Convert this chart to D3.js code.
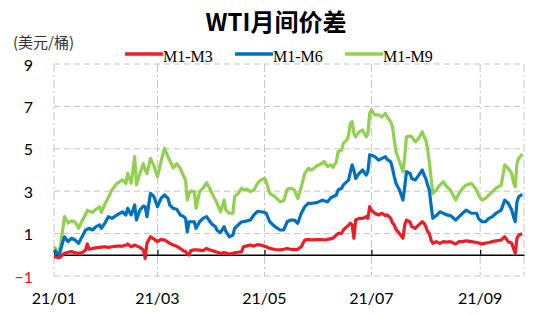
<!DOCTYPE html>
<html>
<head>
<meta charset="utf-8">
<script src="https://cdn.jsdelivr.net/npm/d3@7"></script>
<style>
    body { margin: 0; background: #fff; }
    #chart { width: 550px; height: 315px; }
</style>
</head>
<body>
<div id="chart"></div>
<script>
// trading dates (sampled) and the three spreads, USD/bbl
const dates = [
    "2021-01-04","2021-01-06","2021-01-07","2021-01-09","2021-01-10","2021-01-12","2021-01-14","2021-01-16","2021-01-18","2021-01-20",
    "2021-01-22","2021-01-23","2021-01-24","2021-01-26","2021-01-28","2021-01-30","2021-01-31","2021-02-02","2021-02-04","2021-02-06",
    "2021-02-09","2021-02-12","2021-02-14","2021-02-15","2021-02-17","2021-02-19","2021-02-20","2021-02-22","2021-02-24","2021-02-25",
    "2021-02-26","2021-02-28","2021-03-02","2021-03-04","2021-03-06","2021-03-08","2021-03-10","2021-03-11","2021-03-13","2021-03-15",
    "2021-03-17","2021-03-19","2021-03-20","2021-03-21","2021-03-22","2021-03-23","2021-03-25","2021-03-26","2021-03-28","2021-03-30",
    "2021-04-01","2021-04-03","2021-04-04","2021-04-06","2021-04-07","2021-04-09","2021-04-11","2021-04-12","2021-04-14","2021-04-16",
    "2021-04-17","2021-04-19","2021-04-21","2021-04-22","2021-04-24","2021-04-26","2021-04-28","2021-04-30","2021-05-02","2021-05-04",
    "2021-05-05","2021-05-07","2021-05-10","2021-05-13","2021-05-15","2021-05-17","2021-05-19","2021-05-21","2021-05-23","2021-05-25",
    "2021-05-27","2021-05-29","2021-05-31","2021-06-03","2021-06-06","2021-06-07","2021-06-09","2021-06-11","2021-06-12","2021-06-14",
    "2021-06-15","2021-06-17","2021-06-18","2021-06-20","2021-06-21","2021-06-22","2021-06-23","2021-06-24","2021-06-25","2021-06-27",
    "2021-06-29","2021-07-01","2021-07-02","2021-07-03","2021-07-04","2021-07-06","2021-07-08","2021-07-10","2021-07-12","2021-07-13",
    "2021-07-15","2021-07-16","2021-07-17","2021-07-18","2021-07-20","2021-07-22","2021-07-23","2021-07-24","2021-07-26","2021-07-27",
    "2021-07-29","2021-07-31","2021-08-02","2021-08-03","2021-08-04","2021-08-05","2021-08-06","2021-08-07","2021-08-08","2021-08-10",
    "2021-08-12","2021-08-14","2021-08-16","2021-08-18","2021-08-21","2021-08-23","2021-08-25","2021-08-27","2021-08-30","2021-09-02",
    "2021-09-03","2021-09-05","2021-09-07","2021-09-09","2021-09-11","2021-09-13","2021-09-16","2021-09-18","2021-09-20","2021-09-22",
    "2021-09-23","2021-09-24","2021-09-25","2021-09-26","2021-09-28"
];

const m1m3 = [
    -0.09,-0.12,-0.14,0.0,0.07,0.12,0.15,0.1,0.07,0.1,
    0.23,0.51,0.26,0.3,0.33,0.35,0.36,0.38,0.35,0.38,
    0.41,0.41,0.45,0.51,0.38,0.46,0.42,0.35,0.23,-0.17,
    0.54,0.85,0.74,0.62,0.73,0.7,0.6,0.54,0.46,0.4,
    0.3,0.18,0.15,0.05,-0.01,0.2,0.23,0.23,0.22,0.2,
    0.3,0.23,0.2,0.15,0.12,0.07,0.1,0.08,0.04,0.07,
    0.1,0.12,0.15,0.38,0.42,0.46,0.41,0.48,0.46,0.4,
    0.38,0.3,0.25,0.23,0.26,0.3,0.26,0.25,0.26,0.38,
    0.7,0.73,0.7,0.72,0.72,0.7,0.73,0.76,0.78,0.93,
    1.01,1.01,1.17,1.33,1.4,1.49,1.41,0.78,1.64,1.72,
    1.72,1.8,1.72,2.27,2.1,1.96,1.88,1.96,1.85,1.88,
    1.72,1.5,1.41,1.2,1.0,0.78,1.41,1.64,1.55,1.33,
    1.25,1.41,1.56,1.49,1.33,1.1,1.01,0.7,0.54,0.62,
    0.54,0.62,0.6,0.62,0.51,0.62,0.62,0.66,0.62,0.58,
    0.56,0.51,0.55,0.58,0.62,0.66,0.7,0.85,0.62,0.55,
    0.3,0.07,0.78,0.93,0.99
];

const m1m6 = [
    0.23,0.05,-0.01,0.6,0.85,0.62,0.78,0.7,0.54,0.85,
    1.17,1.2,1.25,1.17,1.33,1.41,1.25,1.49,1.8,1.72,
    1.88,2.03,1.88,2.19,1.88,2.35,1.64,2.11,2.3,2.27,
    1.8,2.9,2.74,2.27,2.66,2.82,2.66,2.35,2.19,2.15,
    1.88,1.8,1.72,1.09,1.56,1.56,1.56,1.25,1.56,1.72,
    1.8,1.56,1.45,1.33,1.15,1.05,1.33,1.1,0.85,0.93,
    1.25,1.41,1.56,1.56,1.6,1.64,1.88,2.05,2.03,2.0,
    1.96,1.56,1.33,1.17,1.17,1.56,1.64,1.64,1.49,1.96,
    2.27,2.43,2.43,2.46,2.58,2.55,2.5,2.7,2.74,2.82,
    3.06,3.14,3.3,3.45,3.53,3.9,4.24,4.0,3.6,3.84,
    4.0,3.76,3.92,4.71,4.7,4.63,4.47,4.55,4.63,4.5,
    4.39,4.08,3.7,3.37,3.06,2.58,3.21,3.92,3.84,3.6,
    3.53,3.76,4.0,3.76,3.6,3.3,3.06,2.35,1.72,1.85,
    2.03,1.96,1.88,1.85,1.64,1.8,1.96,2.11,1.96,1.96,
    1.72,1.56,1.56,1.72,1.8,1.96,2.11,2.58,2.43,2.11,
    1.8,1.56,2.5,2.74,2.85
];

const m1m9 = [
    0.38,0.2,0.1,1.2,1.8,1.5,1.6,1.55,1.25,1.6,
    1.9,2.1,2.05,2.0,2.15,2.27,2.0,2.4,2.7,3.06,
    3.37,3.53,3.37,3.84,3.37,4.63,3.3,3.84,4.3,4.0,
    3.84,4.55,4.2,3.68,4.4,5.02,4.63,4.45,4.1,4.3,
    4.08,3.7,3.53,2.58,2.9,3.0,2.98,2.19,2.98,3.14,
    3.4,3.1,2.9,2.6,2.43,2.03,2.58,2.11,1.96,1.96,
    2.74,2.9,3.14,3.06,3.1,2.98,3.06,3.37,3.53,3.6,
    3.45,2.9,2.74,2.5,2.55,3.1,3.14,3.06,2.66,3.2,
    3.84,4.08,4.0,4.2,4.32,4.4,4.16,4.24,4.12,4.39,
    4.86,4.94,5.26,5.42,5.65,6.2,6.28,5.73,5.57,5.8,
    5.89,5.57,5.73,6.67,6.83,6.6,6.6,6.5,6.67,6.5,
    6.28,6.05,5.42,4.86,4.39,3.92,4.63,5.57,5.6,5.57,
    5.33,5.5,5.8,5.57,5.42,5.0,4.39,3.6,2.9,3.06,
    3.29,3.45,3.21,3.06,2.58,2.9,3.14,3.29,3.37,3.06,
    2.82,2.58,2.66,2.82,2.98,3.14,3.29,4.24,4.08,3.84,
    3.4,3.21,4.3,4.55,4.75
];

const seriesNames = ["M1-M3", "M1-M6", "M1-M9"];
const seriesColors = ["#ee1c25", "#0070c0", "#92d050"];
const yTicks = [-1, 1, 3, 5, 7, 9];
const xTickDates = ["2021-01-04", "2021-03-04", "2021-05-04", "2021-07-04", "2021-09-04"];
const xTickLabels = ["21/01", "21/03", "21/05", "21/07", "21/09"];

class SpreadVis {

    constructor(parentElement) {
        this.parentElement = parentElement;
        this.initVis();
    }

    initVis() {
        let vis = this;

        vis.width = 550;
        vis.height = 315;
        vis.plot = {left: 54, right: 524, top: 64, bottom: 276};

        vis.svg = d3.select("#" + vis.parentElement).append("svg")
            .attr("width", vis.width)
            .attr("height", vis.height);

        vis.parse = d3.timeParse("%Y-%m-%d");

        vis.x = d3.scaleTime()
            .domain([vis.parse("2021-01-04"), vis.parse("2021-09-29")])
            .range([vis.plot.left, vis.plot.right]);

        vis.y = d3.scaleLinear()
            .domain([-1, 9])
            .range([vis.plot.bottom, vis.plot.top]);

        // title + unit
        vis.svg.append("text")
            .attr("x", 276).attr("y", 31)
            .attr("text-anchor", "middle")
            .style("font-family", "'Noto Sans CJK SC', sans-serif")
            .style("font-weight", 700)
            .style("font-size", "24px")
            .style("fill", "#000")
            .text("WTI月间价差");

        vis.svg.append("text")
            .attr("x", 13).attr("y", 48)
            .style("font-family", "'Noto Sans CJK SC', sans-serif")
            .style("font-size", "15px")
            .style("fill", "#333")
            .text("(美元/桶)");

        vis.wrangleData();
    }

    wrangleData() {
        let vis = this;
        vis.displayData = [m1m9, m1m6, m1m3].map((vals, i) => ({
            name: seriesNames[2 - i],
            color: seriesColors[2 - i],
            values: vals.map((v, j) => ({date: vis.parse(dates[j]), value: v}))
        }));
        vis.updateVis();
    }

    updateVis() {
        let vis = this;

        // horizontal dashed grid
        vis.svg.append("g").selectAll("line")
            .data(yTicks)
            .enter().append("line")
            .attr("x1", vis.plot.left).attr("x2", vis.plot.right)
            .attr("y1", d => vis.y(d)).attr("y2", d => vis.y(d))
            .style("stroke", "#c4c4c4")
            .style("stroke-width", 1)
            .style("stroke-dasharray", "6,4");

        // vertical dashed grid
        let vLines = xTickDates.map(d => vis.x(vis.parse(d))).concat([vis.plot.right]);
        vis.svg.append("g").selectAll("line")
            .data(vLines)
            .enter().append("line")
            .attr("x1", d => d).attr("x2", d => d)
            .attr("y1", vis.plot.top).attr("y2", vis.plot.bottom)
            .style("stroke", "#c4c4c4")
            .style("stroke-width", 1)
            .style("stroke-dasharray", "8,3,2,3");

        // y labels
        let yAxis = d3.axisLeft(vis.y).tickValues(yTicks).tickSize(0).tickPadding(0).tickFormat(d3.format("d"));
        let yg = vis.svg.append("g")
            .attr("transform", "translate(33,1)")
            .call(yAxis);
        yg.select(".domain").remove();
        yg.selectAll("text")
            .style("font-family", "Lato, 'Open Sans', sans-serif")
            .style("font-size", "16px")
            .style("fill", d => d < 0 ? "#e8141b" : "#000");

        // zero line with ticks
        let xAxis = d3.axisTop(vis.x)
            .tickValues(xTickDates.map(vis.parse))
            .tickSize(5)
            .tickSizeOuter(0)
            .tickFormat("");
        let zg = vis.svg.append("g")
            .attr("transform", `translate(0,${vis.y(0)})`)
            .call(xAxis);
        zg.select(".domain").style("stroke", "#000").style("stroke-width", 1.5);
        zg.selectAll(".tick line").style("stroke", "#000").style("stroke-width", 1.2);

        // x labels
        vis.svg.append("g").selectAll("text")
            .data(xTickDates)
            .enter().append("text")
            .attr("x", d => vis.x(vis.parse(d)))
            .attr("y", 304)
            .attr("text-anchor", "middle")
            .style("font-family", "Lato, 'Open Sans', sans-serif")
            .style("font-size", "16px")
            .style("fill", "#000")
            .text((d, i) => xTickLabels[i]);

        // series lines
        let line = d3.line()
            .x(d => vis.x(d.date))
            .y(d => vis.y(d.value));

        vis.svg.append("g").selectAll("path")
            .data(vis.displayData)
            .enter().append("path")
            .attr("d", d => line(d.values))
            .style("fill", "none")
            .style("stroke", d => d.color)
            .style("stroke-width", 3.2)
            .style("stroke-linejoin", "round");

        // legend
        let legendX = [125, 235, 345];
        let lg = vis.svg.append("g").selectAll("g")
            .data(seriesNames)
            .enter().append("g")
            .attr("transform", (d, i) => `translate(${legendX[i]},54)`);
        lg.append("line")
            .attr("x1", 0).attr("x2", 38)
            .style("stroke", (d, i) => seriesColors[i])
            .style("stroke-width", 3.5);
        lg.append("text")
            .attr("x", 38).attr("y", 8)
            .style("font-family", "'Liberation Serif', serif")
            .style("font-size", "16px")
            .style("fill", "#000")
            .text(d => d);
    }
}

new SpreadVis("chart");
</script>
</body>
</html>
